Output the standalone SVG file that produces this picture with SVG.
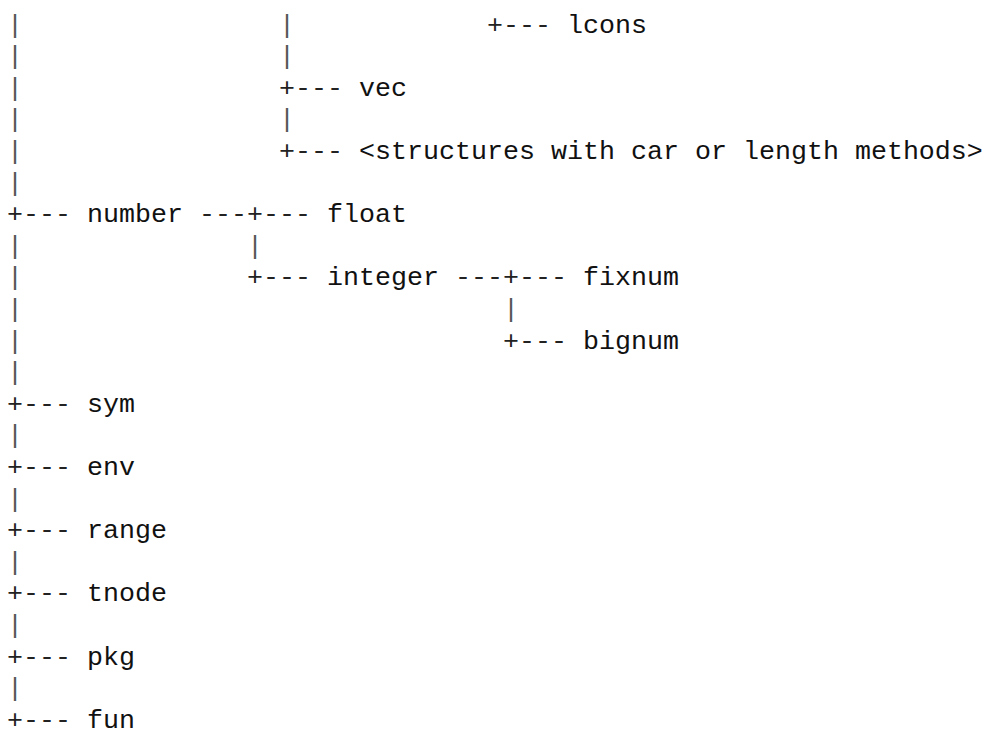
<svg xmlns="http://www.w3.org/2000/svg" width="985" height="738" viewBox="0 0 985 738">
<style>
text{font-family:"Liberation Mono","Courier New",monospace;font-size:26.67px;fill:#111;white-space:pre}
.c{fill:#222}
.v{fill:#555}
</style>
<rect width="985" height="738" fill="#fff"/>
<g id="connectors">
<text class="v" x="7" y="32.5">|</text><text class="v" x="279" y="32.5">|</text><text class="c" x="487" y="32.5">+---</text>
<text class="v" x="7" y="64.1">|</text><text class="v" x="279" y="64.1">|</text>
<text class="v" x="7" y="95.7">|</text><text class="c" x="279" y="95.7">+---</text>
<text class="v" x="7" y="127.3">|</text><text class="v" x="279" y="127.3">|</text>
<text class="v" x="7" y="158.9">|</text><text class="c" x="279" y="158.9">+---</text>
<text class="v" x="7" y="190.5">|</text>
<text class="c" x="7" y="222.1">+---</text><text class="c" x="199" y="222.1">---+---</text>
<text class="v" x="7" y="253.7">|</text><text class="v" x="247" y="253.7">|</text>
<text class="v" x="7" y="285.3">|</text><text class="c" x="247" y="285.3">+---</text><text class="c" x="455" y="285.3">---+---</text>
<text class="v" x="7" y="316.9">|</text><text class="v" x="503" y="316.9">|</text>
<text class="v" x="7" y="348.5">|</text><text class="c" x="503" y="348.5">+---</text>
<text class="v" x="7" y="380.1">|</text>
<text class="c" x="7" y="411.7">+---</text>
<text class="v" x="7" y="443.3">|</text>
<text class="c" x="7" y="474.9">+---</text>
<text class="v" x="7" y="506.5">|</text>
<text class="c" x="7" y="538.1">+---</text>
<text class="v" x="7" y="569.7">|</text>
<text class="c" x="7" y="601.3">+---</text>
<text class="v" x="7" y="632.9">|</text>
<text class="c" x="7" y="664.5">+---</text>
<text class="v" x="7" y="696.1">|</text>
<text class="c" x="7" y="727.7">+---</text>
</g>
<g id="lcons"><text x="567" y="32.5">lcons</text></g>
<g id="vec"><text x="359" y="95.7">vec</text></g>
<g id="structures"><text x="359" y="158.9">&lt;structures with car or length methods&gt;</text></g>
<g id="number"><text x="87" y="222.1">number</text></g>
<g id="float"><text x="327" y="222.1">float</text></g>
<g id="integer"><text x="327" y="285.3">integer</text></g>
<g id="fixnum"><text x="583" y="285.3">fixnum</text></g>
<g id="bignum"><text x="583" y="348.5">bignum</text></g>
<g id="sym"><text x="87" y="411.7">sym</text></g>
<g id="env"><text x="87" y="474.9">env</text></g>
<g id="range"><text x="87" y="538.1">range</text></g>
<g id="tnode"><text x="87" y="601.3">tnode</text></g>
<g id="pkg"><text x="87" y="664.5">pkg</text></g>
<g id="fun"><text x="87" y="727.7">fun</text></g>
</svg>
